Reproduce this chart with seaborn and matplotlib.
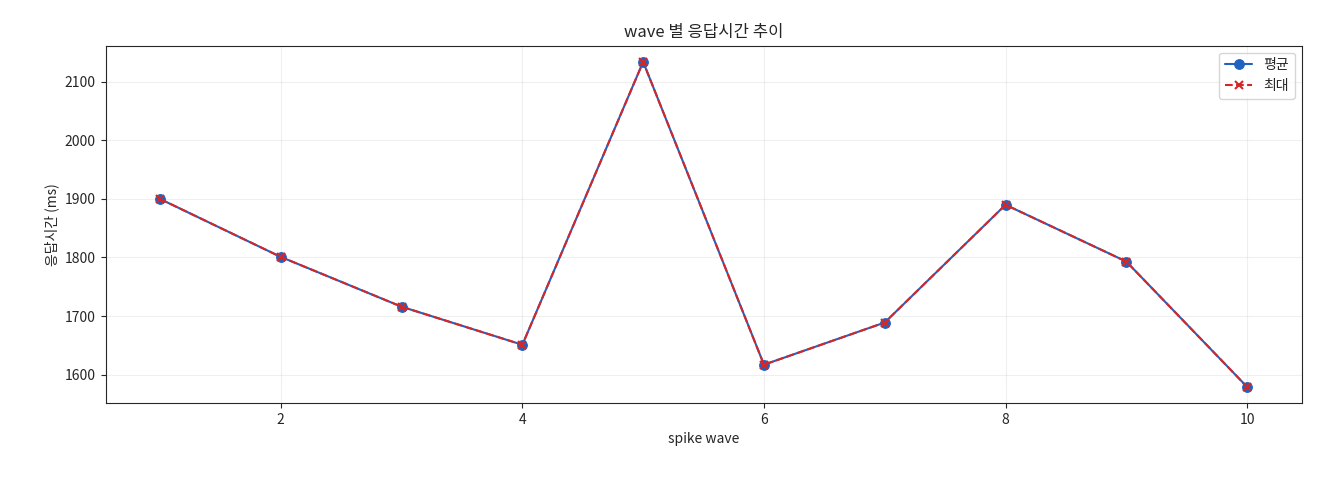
import matplotlib
matplotlib.use("Agg")
import matplotlib.pyplot as plt
import seaborn as sns
import pandas as pd

waves = [1, 2, 3, 4, 5, 6, 7, 8, 9, 10]
avg_ms = [1900, 1801, 1716, 1651, 2134, 1617, 1689, 1890, 1793, 1579]
max_ms = [1900, 1801, 1716, 1651, 2134, 1617, 1689, 1890, 1793, 1579]

sns.set_style("ticks")
plt.rcParams['font.family'] = ['Noto Sans CJK KR', 'DejaVu Sans']
plt.rcParams['axes.unicode_minus'] = False

df = pd.DataFrame({"wave": waves, "avg": avg_ms, "max": max_ms})
fig, ax = plt.subplots(figsize=(13.2, 4.8), dpi=100)
sns.lineplot(data=df, x="wave", y="avg", ax=ax, color="#1f62c0", marker="o",
             markersize=7, markeredgecolor="#1f62c0", markerfacecolor="#1f62c0",
             label="평균", linewidth=1.5)
sns.lineplot(data=df, x="wave", y="max", ax=ax, color="#d62728", marker="x",
             markersize=6, markeredgecolor="#d62728", markeredgewidth=1.5,
             label="최대", linewidth=1.5)
ax.lines[1].set_linestyle((0, (3.7, 1.6)))
ax.set_title("wave 별 응답시간 추이", fontsize=12)
ax.set_xlabel("spike wave", fontsize=10)
ax.set_ylabel("응답시간 (ms)", fontsize=10)
ax.grid(True, alpha=0.3)
ax.set_xticks([2, 4, 6, 8, 10])
ax.legend(loc="upper right", fontsize=10)
fig.subplots_adjust(left=0.08, right=0.986, top=0.905, bottom=0.16)
fig.savefig("out.png", dpi=100)
